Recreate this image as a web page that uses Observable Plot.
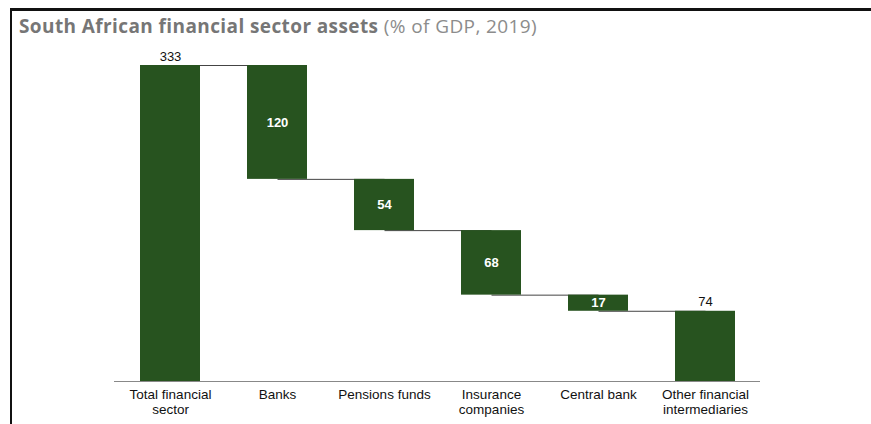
<!DOCTYPE html>
<html>
<head>
<meta charset="utf-8">
<script src="https://cdn.jsdelivr.net/npm/d3@7"></script>
<script src="https://cdn.jsdelivr.net/npm/@observablehq/plot@0.6"></script>
<style>
  html, body { margin: 0; padding: 0; background: #fff; }
  #wrap { position: relative; width: 871px; height: 424px; overflow: hidden; }
  #frame { position: absolute; left: 10px; top: 8px; right: -5px; bottom: -5px;
           border-left: 2px solid #111; border-top: 3px solid #111; }
  #title { position: absolute; left: 19px; top: 13px; font-family: "Open Sans", Lato, sans-serif;
           font-size: 19px; letter-spacing: 0.4px; color: #7b7b7b; white-space: nowrap; }
  #title b { font-weight: 700; color: #767676; }
  #title span { color: #8c8c8c; }
  #chart { position: absolute; left: 0; top: 40px; }
</style>
</head>
<body>
<div id="wrap">
  <div id="frame"></div>
  <div id="title"><b>South African financial sector assets</b> <span>(% of GDP, 2019)</span></div>
  <div id="chart"></div>
</div>
<script>
const categories = ["Total financial sector", "Banks", "Pensions funds", "Insurance companies", "Central bank", "Other financial intermediaries"];
const tickLabels = ["Total financial\nsector", "Banks", "Pensions funds", "Insurance\ncompanies", "Central bank", "Other financial\nintermediaries"];
const values = [333, 120, 54, 68, 17, 74];
const kinds = ["total", "step", "step", "step", "step", "total"];

// build waterfall table
let level = 0;
const rows = categories.map((c, i) => {
  let y1, y2;
  if (i === 0) { y1 = 0; y2 = values[i]; level = values[i]; }
  else if (kinds[i] === "total") { y1 = 0; y2 = values[i]; }
  else { y2 = level; y1 = level - values[i]; level = y1; }
  return {cat: c, label: tickLabels[i], value: values[i], kind: kinds[i], y1, y2, mid: (y1 + y2) / 2};
});
// connectors between consecutive bars
const links = rows.slice(0, -1).map((r, i) => {
  const lvl = i === 0 ? r.y2 : r.y1;
  return {a: r.cat, b: rows[i + 1].cat, y: lvl};
});

const green = "#27531f";
const chart = Plot.plot({
  width: 871,
  height: 384,
  marginTop: 25,
  marginBottom: 43,
  marginLeft: 114,
  marginRight: 111,
  style: {fontFamily: "'Liberation Sans', Arial, sans-serif", fontSize: "13px", color: "#111", background: "transparent"},
  x: {domain: categories, paddingInner: 0.443, paddingOuter: 0.223, axis: null},
  y: {domain: [0, 333], axis: null},
  marks: [
    Plot.link(links, {x1: "a", x2: "b", y1: "y", y2: "y", stroke: "#444", strokeWidth: 1}),
    Plot.rectY(rows, {x: "cat", y1: "y1", y2: "y2", fill: green}),
    Plot.ruleY([0], {stroke: "#888", strokeWidth: 1}),
    Plot.text(rows, {x: "cat", y: 0, text: "label", lineAnchor: "top", lineHeight: 1.15, dy: 6, fill: "#111", fontSize: 13.5}),
    Plot.text(rows.filter(r => r.kind === "total"), {x: "cat", y: "y2", text: d => String(d.value), dy: -9, fill: "#111", fontSize: 13}),
    Plot.text(rows.filter(r => r.kind === "step"), {x: "cat", y: "mid", text: d => String(d.value), fill: "#fff", fontSize: 13, fontWeight: "bold"})
  ]
});
document.getElementById("chart").appendChild(chart);
</script>
</body>
</html>
